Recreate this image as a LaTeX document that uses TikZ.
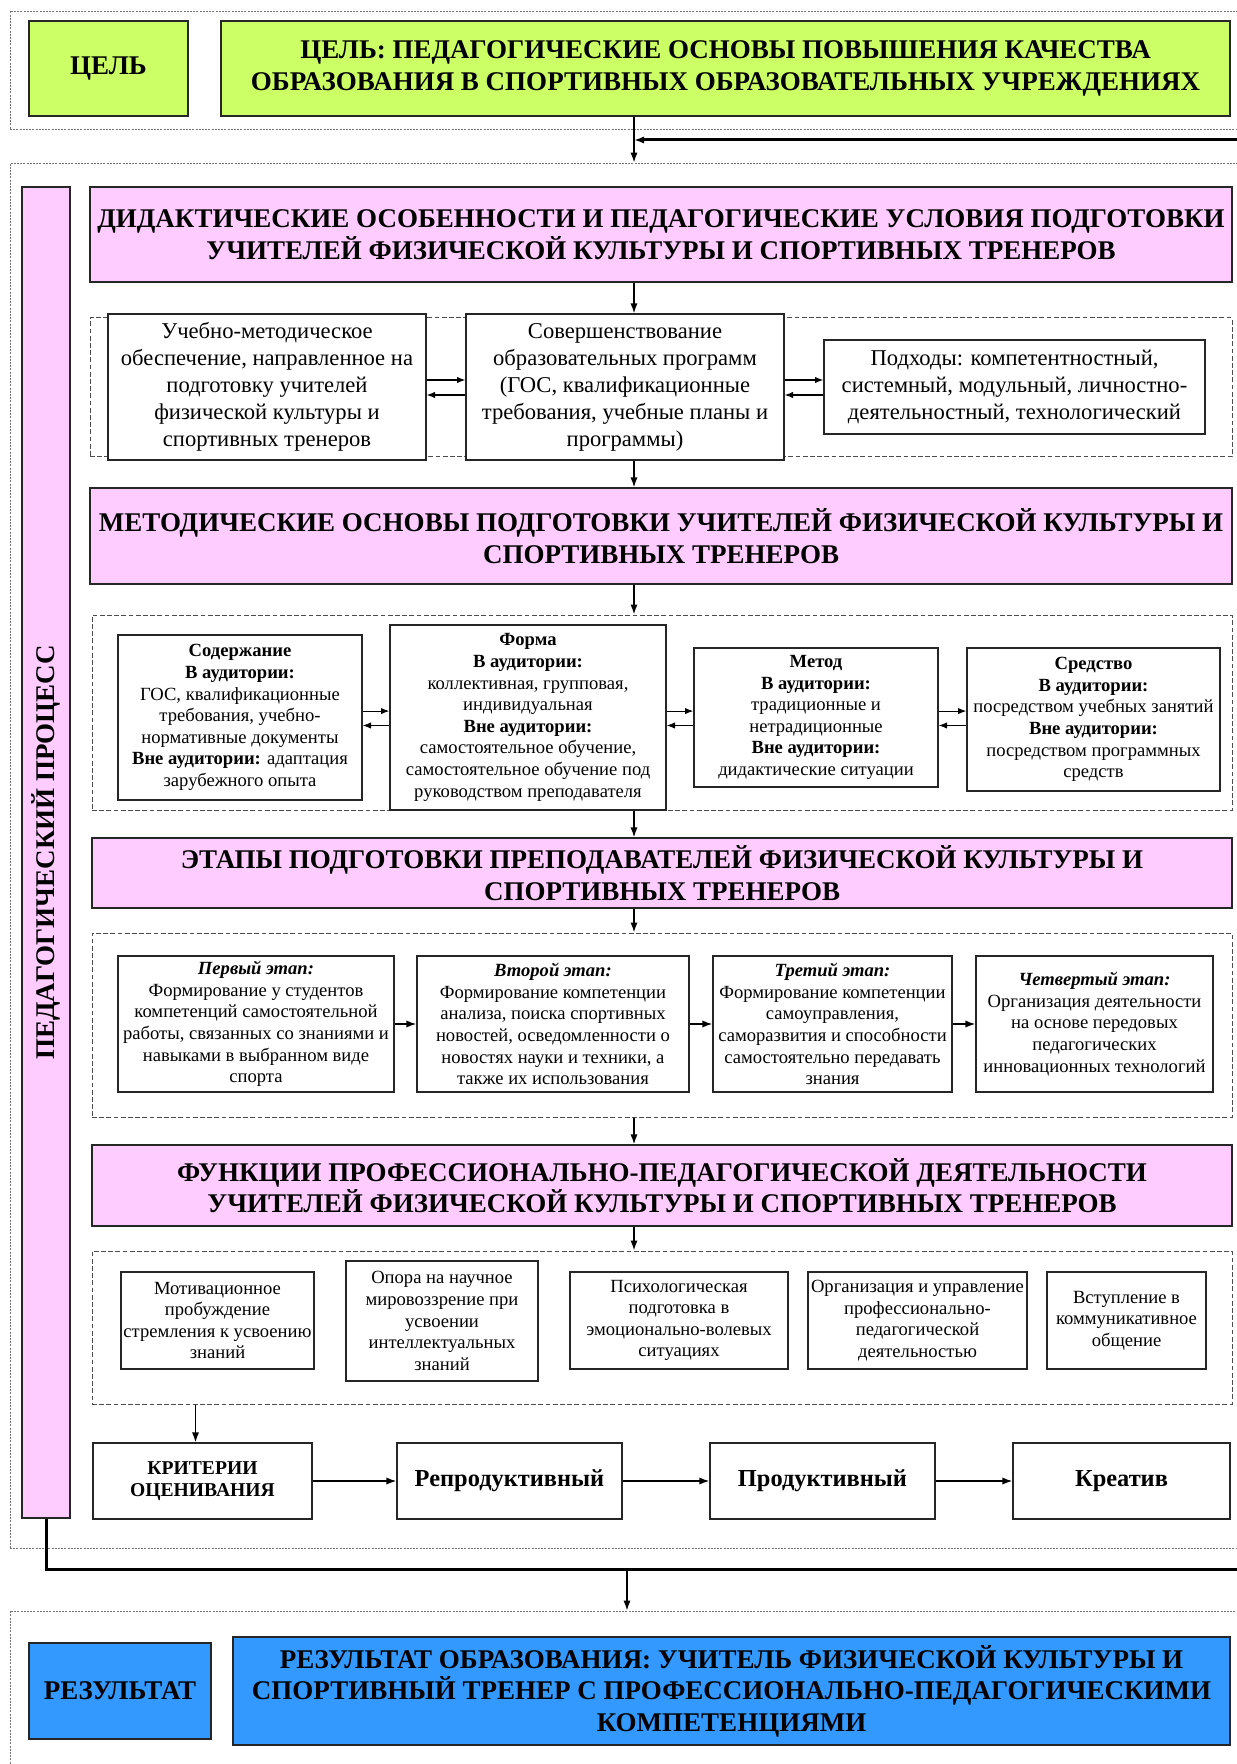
\documentclass[tikz,border=0pt]{standalone}
\usepackage{fontspec}
\setmainfont{Liberation Serif}
\usetikzlibrary{arrows.meta,calc,positioning}
\definecolor{goalgreen}{RGB}{204,255,102}
\definecolor{procpink}{RGB}{255,204,255}
\definecolor{resblue}{RGB}{51,153,255}

\begin{document}
\begin{tikzpicture}[>={Latex[length=5pt,width=3.6pt]}, x=0.5pt, y=-0.5pt, line width=0.75pt,
   frame/.style={draw=black!55, dash pattern=on 1pt off 0.6pt, line width=0.4pt, inner sep=0pt},
   group/.style={draw=black!70, dash pattern=on 2.4pt off 1.2pt, line width=0.5pt, inner sep=0pt},
   box/.style={draw=black!85, fill=white, align=center, inner sep=0pt, line width=0.6pt},
   bigfont/.style={font=\fontsize{13.5}{15.8}\selectfont\bfseries},
   midfont/.style={font=\fontsize{11.3}{13.5}\selectfont},
   smallfont/.style={font=\fontsize{9.3}{10.8}\selectfont},
   goalbox/.style={box, fill=goalgreen, bigfont},
   headbox/.style={box, fill=procpink, bigfont},
   resbox/.style={box, fill=resblue, bigfont},
   pair/.style={->, >={Latex[length=4.2pt,width=3.2pt]}, line width=0.6pt},
   loopline/.style={->, line width=1.5pt}]

   \useasboundingbox (0,0) rectangle (1236,1764);
   \coordinate (axis) at (634,0);

   \node[frame, minimum width=620pt, minimum height=59pt] (frGoal) at (630,70) {};
   \node[goalbox, minimum width=79.5pt, minimum height=47.5pt] (goalL) at (108.5,68.5) {ЦЕЛЬ};
   \node[goalbox, minimum width=504.5pt, minimum height=47.5pt] (goalR) at (725.5,68.5)
      {ЦЕЛЬ: ПЕДАГОГИЧЕСКИЕ ОСНОВЫ ПОВЫШЕНИЯ КАЧЕСТВА\\ОБРАЗОВАНИЯ В СПОРТИВНЫХ ОБРАЗОВАТЕЛЬНЫХ УЧРЕЖДЕНИЯХ};

   \node[frame, minimum width=620pt, minimum height=692.5pt] (frProc) at (630,855.5) {};
   \node[headbox, minimum width=24pt, minimum height=665.5pt] (bar) at (46,852.5) {};
   \node[bigfont, rotate=90] (barText) at (bar.center) {ПЕДАГОГИЧЕСКИЙ ПРОЦЕСС};

   \node[headbox, minimum width=571pt, minimum height=47.5pt] (hdA) at (661,234.5)
      {ДИДАКТИЧЕСКИЕ ОСОБЕННОСТИ И ПЕДАГОГИЧЕСКИЕ УСЛОВИЯ ПОДГОТОВКИ\\УЧИТЕЛЕЙ ФИЗИЧЕСКОЙ КУЛЬТУРЫ И СПОРТИВНЫХ ТРЕНЕРОВ};

   \node[group, minimum width=571pt, minimum height=69.5pt] (frA) at (661,387.5) {};
   \node[box, midfont, minimum width=159pt, minimum height=73pt] (a1) at (267,387)
      {Учебно-методическое\\обеспечение, направленное на\\подготовку учителей\\физической культуры и\\спортивных тренеров};
   \node[box, midfont, minimum width=159pt, minimum height=73pt] (a2) at (625,387)
      {Совершенствование\\образовательных программ\\(ГОС, квалификационные\\требования, учебные планы и\\программы)};
   \node[box, midfont, minimum width=190.5pt, minimum height=47pt] (a3) at (1014.5,387)
      {Подходы: компетентностный,\\системный, модульный, личностно-\\деятельностный, технологический};

   \node[headbox, minimum width=571pt, minimum height=48pt] (hdB) at (661,536)
      {МЕТОДИЧЕСКИЕ ОСНОВЫ ПОДГОТОВКИ УЧИТЕЛЕЙ ФИЗИЧЕСКОЙ КУЛЬТУРЫ И\\СПОРТИВНЫХ ТРЕНЕРОВ};

   \node[group, minimum width=570pt, minimum height=97.5pt] (frB) at (662,712.5) {};
   \node[box, smallfont, minimum width=122pt, minimum height=82.5pt] (b1) at (240,717.5)
      {\textbf{Содержание}\\\textbf{В аудитории:}\\ГОС, квалификационные\\требования, учебно-\\нормативные документы\\\textbf{Вне аудитории:} адаптация\\зарубежного опыта};
   \node[box, smallfont, minimum width=138pt, minimum height=92.5pt] (b2) at (528,717.5)
      {\textbf{Форма}\\\textbf{В аудитории:}\\коллективная, групповая,\\индивидуальная\\\textbf{Вне аудитории:}\\самостоятельное обучение,\\самостоятельное обучение под\\руководством преподавателя};
   \node[box, smallfont, minimum width=122pt, minimum height=69.5pt] (b3) at (816,717.5)
      {\textbf{Метод}\\\textbf{В аудитории:}\\традиционные и\\нетрадиционные\\\textbf{Вне аудитории:}\\дидактические ситуации};
   \node[box, smallfont, minimum width=126.5pt, minimum height=71.5pt] (b4) at (1093.5,719.5)
      {\textbf{Средство}\\\textbf{В аудитории:}\\посредством учебных занятий\\\textbf{Вне аудитории:}\\посредством программных\\средств};

   \node[headbox, minimum width=570pt, minimum height=35pt] (hdC) at (662,873)
      {ЭТАПЫ ПОДГОТОВКИ ПРЕПОДАВАТЕЛЕЙ ФИЗИЧЕСКОЙ КУЛЬТУРЫ И\\СПОРТИВНЫХ ТРЕНЕРОВ};

   \node[group, minimum width=570pt, minimum height=92pt] (frC) at (662,1025) {};
   \node[box, smallfont, minimum width=138pt, minimum height=68pt] (c1) at (256,1024)
      {\textbf{\textit{Первый этап:}}\\Формирование у студентов\\компетенций самостоятельной\\работы, связанных со знаниями и\\навыками в выбранном виде\\спорта};
   \node[box, smallfont, minimum width=136pt, minimum height=68pt] (c2) at (553,1024)
      {\textbf{\textit{Второй этап:}}\\Формирование компетенции\\анализа, поиска спортивных\\новостей, осведомленности о\\новостях науки и техники, а\\также их использования};
   \node[box, smallfont, minimum width=119.5pt, minimum height=68pt] (c3) at (832.5,1024)
      {\textbf{\textit{Третий этап:}}\\Формирование компетенции\\самоуправления,\\саморазвития и способности\\самостоятельно передавать\\знания};
   \node[box, smallfont, minimum width=118.5pt, minimum height=68pt] (c4) at (1094.5,1024)
      {\textbf{\textit{Четвертый этап:}}\\Организация деятельности\\на основе передовых\\педагогических\\инновационных технологий};

   \node[headbox, minimum width=570pt, minimum height=40.5pt] (hdD) at (662,1185.5)
      {ФУНКЦИИ ПРОФЕССИОНАЛЬНО-ПЕДАГОГИЧЕСКОЙ ДЕЯТЕЛЬНОСТИ\\УЧИТЕЛЕЙ ФИЗИЧЕСКОЙ КУЛЬТУРЫ И СПОРТИВНЫХ ТРЕНЕРОВ};

   \node[group, minimum width=570pt, minimum height=76.5pt] (frD) at (662,1327.5) {};
   \node[box, smallfont, minimum width=96.5pt, minimum height=48.5pt] (d1) at (217.5,1320.5)
      {Мотивационное\\пробуждение\\стремления к усвоению\\знаний};
   \node[box, smallfont, minimum width=96pt, minimum height=60pt] (d2) at (442,1321)
      {Опора на научное\\мировоззрение при\\усвоении\\интеллектуальных\\знаний};
   \node[box, smallfont, minimum width=109pt, minimum height=48.5pt] (d3) at (679,1320.5)
      {Психологическая\\подготовка в\\эмоционально-волевых\\ситуациях};
   \node[box, smallfont, minimum width=109.5pt, minimum height=48.5pt] (d4) at (917.5,1320.5)
      {Организация и управление\\профессионально-\\педагогической\\деятельностью};
   \node[box, smallfont, minimum width=79.5pt, minimum height=48.5pt] (d5) at (1126.5,1320.5)
      {Вступление в\\коммуникативное\\общение};

   \node[box, font=\fontsize{9.8}{11.3}\selectfont\bfseries, minimum width=109.5pt, minimum height=38pt] (e1) at (202.5,1481)
      {КРИТЕРИИ\\ОЦЕНИВАНИЯ};
   \node[box, font=\fontsize{12.2}{14}\selectfont\bfseries, minimum width=112.5pt, minimum height=38pt] (e2) at (509.5,1481) {Репродуктивный};
   \node[box, font=\fontsize{12.2}{14}\selectfont\bfseries, minimum width=112.5pt, minimum height=38pt] (e3) at (822.5,1481) {Продуктивный};
   \node[box, font=\fontsize{12.2}{14}\selectfont\bfseries, minimum width=108.5pt, minimum height=38pt] (e4) at (1121.5,1481) {Креатив};

   \node[frame, minimum width=620pt, minimum height=89.5pt] (frRes) at (630,1700.5) {};
   \node[resbox, minimum width=91pt, minimum height=48pt] (resL) at (120,1691) {РЕЗУЛЬТАТ};
   \node[resbox, minimum width=498.5pt, minimum height=54pt] (resR) at (731.5,1691)
      {РЕЗУЛЬТАТ ОБРАЗОВАНИЯ: УЧИТЕЛЬ ФИЗИЧЕСКОЙ КУЛЬТУРЫ И\\СПОРТИВНЫЙ ТРЕНЕР С ПРОФЕССИОНАЛЬНО-ПЕДАГОГИЧЕСКИМИ\\КОМПЕТЕНЦИЯМИ};

   \coordinate (loopR) at (1252,1569);
   \coordinate (loopT) at (1252,140);
   \coordinate (resAx) at (627,1569);

   \draw[->] (goalR.south -| axis) -- (frProc.north -| axis);
   \draw[loopline] (bar.south) |- (loopR) -- (loopT) -- (loopT -| axis);
   \draw[->] (resAx) -- (resAx |- frRes.north);

   \draw[->] (hdA.south -| axis) -- (a2.north -| axis);
   \draw[->] (a2.south -| axis) -- (hdB.north -| axis);
   \draw[->] (hdB.south -| axis) -- (frB.north -| axis);
   \draw[->] (frB.south -| axis) -- (hdC.north -| axis);
   \draw[->] (hdC.south -| axis) -- (frC.north -| axis);
   \draw[->] (frC.south -| axis) -- (hdD.north -| axis);
   \draw[->] (hdD.south -| axis) -- (frD.north -| axis);
   \draw[->] ([xshift=-3.5pt]frD.south -| e1.north) -- ([xshift=-3.5pt]e1.north);

   \draw[pair] ([yshift=3.5pt]a1.east) -- ([yshift=3.5pt]a2.west);
   \draw[pair] ([yshift=-4pt]a2.west) -- ([yshift=-4pt]a1.east);
   \draw[pair] ([yshift=3.5pt]a2.east) -- ([yshift=3.5pt]a3.west);
   \draw[pair] ([yshift=-4pt]a3.west) -- ([yshift=-4pt]a2.east);

   \draw[pair] ([yshift=3.2pt]b1.east) -- ([yshift=3.2pt]b2.west);
   \draw[pair] ([yshift=-4pt]b2.west) -- ([yshift=-4pt]b1.east);
   \draw[pair] ([yshift=3.2pt]b2.east) -- ([yshift=3.2pt]b3.west);
   \draw[pair] ([yshift=-4pt]b3.west) -- ([yshift=-4pt]b2.east);
   \draw[pair] ([yshift=3.2pt]b3.east) -- ([yshift=3.2pt]b4.west |- b3.east);
   \draw[pair] ([yshift=-4pt]b4.west |- b3.east) -- ([yshift=-4pt]b3.east);

   \draw[->] (c1) -- (c2);
   \draw[->] (c2) -- (c3);
   \draw[->] (c3) -- (c4);

   \draw[->] (e1) -- (e2);
   \draw[->] (e2) -- (e3);
   \draw[->] (e3) -- (e4);

\end{tikzpicture}
\end{document}
